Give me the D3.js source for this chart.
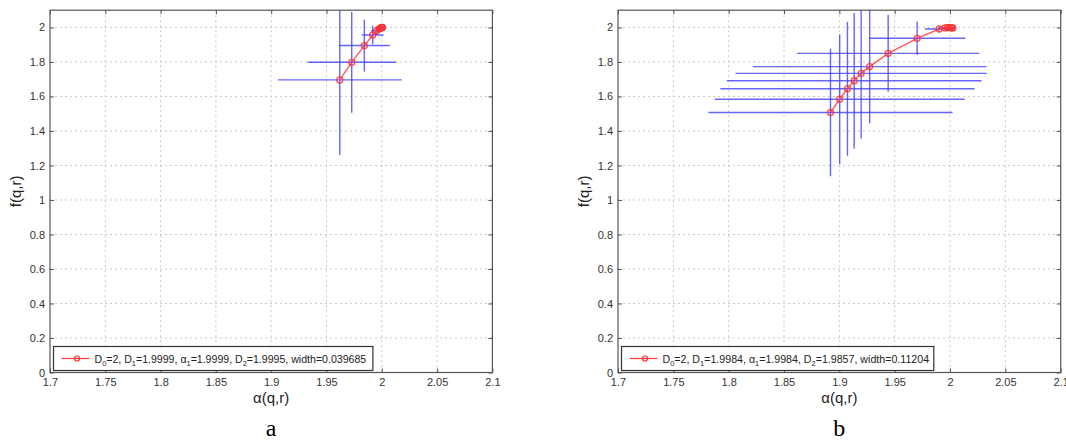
<!DOCTYPE html>
<html><head><meta charset="utf-8">
<script src="https://cdn.jsdelivr.net/npm/d3@7"></script>
<style>
html,body{margin:0;padding:0;background:#fff;}
svg{display:block;font-family:"Liberation Sans",Arial,sans-serif;}
</style></head>
<body><svg id="c" width="1066" height="443"></svg>
<script>
// ---- data ----
const xTicks = [1.7,1.75,1.8,1.85,1.9,1.95,2,2.05,2.1];
const yTicks = [0,0.2,0.4,0.6,0.8,1,1.2,1.4,1.6,1.8,2];

const aAlpha = [1.9620,1.9728,1.9842,1.9918,1.9954,1.9975,1.9988,1.9996,2.0000,2.0003,2.0005];
const aF     = [1.696,1.798,1.895,1.9565,1.981,1.991,1.996,1.999,2.000,2.000,1.9995];
const aErrA  = [0.056,0.040,0.023,0.0098,0.005,0.003,0.002,0.0015,0.001,0.0012,0.0015];
const aErrF  = [0.435,0.292,0.150,0.054,0.022,0.010,0.005,0.003,0.002,0.002,0.002];
const aLegend = ["D","0","=2, D","1","=1.9999, α","1","=1.9999, D","2","=1.9995, width=0.039685"];

const bAlpha = [1.8920,1.9003,1.9073,1.9134,1.9197,1.9274,1.9441,1.9703,1.9902,1.9955,1.9975,1.9990,2.0005,2.0015,2.0025];
const bF     = [1.507,1.584,1.645,1.691,1.734,1.773,1.850,1.937,1.991,1.9975,1.9995,2.000,1.9995,1.998,1.997];
const bErrA  = [0.1103,0.1128,0.1148,0.1151,0.1135,0.1056,0.0823,0.0436,0.013,0.005,0.003,0.002,0.002,0.002,0.002];
const bErrF  = [0.370,0.377,0.388,0.393,0.377,0.328,0.223,0.096,0.012,0.006,0.004,0.003,0.003,0.003,0.003];
const bLegend = ["D","0","=2, D","1","=1.9984, α","1","=1.9984, D","2","=1.9857, width=0.11204"];

const panels = [
  {id:"a", alpha:aAlpha, f:aF, ea:aErrA, ef:aErrF, legend:aLegend, x0:50, x1:492.4, legW:319.4, textW:272, caption:"a"},
  {id:"b", alpha:bAlpha, f:bF, ea:bErrA, ef:bErrF, legend:bLegend, x0:618, x1:1060.7, legW:312.3, textW:267, caption:"b"}
];

const svg = d3.select("#c");
const yTop = 10.2, yBot = 372.5;
const axisCol = "#555", txtCol = "#333";

panels.forEach(p => {
  const x = d3.scaleLinear().domain([1.7,2.1]).range([p.x0,p.x1]);
  const y = d3.scaleLinear().domain([0,2.1]).range([yBot,yTop]);
  const g = svg.append("g");

  g.append("defs").append("clipPath").attr("id","clip"+p.id)
    .append("rect").attr("x",p.x0).attr("y",yTop).attr("width",p.x1-p.x0).attr("height",yBot-yTop);

  // grid
  g.append("g").selectAll("line").data(xTicks.slice(1,-1)).join("line")
    .attr("x1",d=>x(d)).attr("x2",d=>x(d)).attr("y1",yTop).attr("y2",yBot)
    .attr("stroke","#c8c8c8").attr("stroke-width",1).attr("stroke-dasharray","2,3");
  g.append("g").selectAll("line").data(yTicks.slice(1)).join("line")
    .attr("x1",p.x0).attr("x2",p.x1).attr("y1",d=>y(d)).attr("y2",d=>y(d))
    .attr("stroke","#c8c8c8").attr("stroke-width",1).attr("stroke-dasharray","2,3");

  // axes (inner ticks, MATLAB style)
  const xb = d3.axisBottom(x).tickValues(xTicks).tickSize(-4).tickPadding(6).tickFormat(d3.format("~g"));
  const xt = d3.axisTop(x).tickValues(xTicks).tickSize(-4).tickFormat("");
  const yl = d3.axisLeft(y).tickValues(yTicks).tickSize(-4).tickPadding(5).tickFormat(d3.format("~g"));
  const yr = d3.axisRight(y).tickValues(yTicks).tickSize(-4).tickFormat("");
  const styleAx = sel => {
    sel.select(".domain").remove();
    sel.selectAll("line").attr("stroke",axisCol);
    sel.selectAll("text").attr("fill",txtCol).style("font-size","11px").style("font-family","Liberation Sans, Arial, sans-serif");
  };
  g.append("g").attr("transform",`translate(0,${yBot})`).call(xb).call(styleAx);
  g.append("g").attr("transform",`translate(0,${yTop})`).call(xt).call(styleAx);
  g.append("g").attr("transform",`translate(${p.x0},0)`).call(yl).call(styleAx);
  g.append("g").attr("transform",`translate(${p.x1},0)`).call(yr).call(styleAx);

  // box
  g.append("rect").attr("x",p.x0).attr("y",yTop).attr("width",p.x1-p.x0).attr("height",yBot-yTop)
    .attr("fill","none").attr("stroke",axisCol).attr("stroke-width",1.2);

  // data
  const pts = p.alpha.map((a,i)=>({a, f:p.f[i], ea:p.ea[i], ef:p.ef[i]}));
  const dg = g.append("g").attr("clip-path",`url(#clip${p.id})`);
  dg.selectAll("line.h").data(pts).join("line").attr("class","h")
    .attr("x1",d=>x(d.a-d.ea)).attr("x2",d=>x(d.a+d.ea)).attr("y1",d=>y(d.f)).attr("y2",d=>y(d.f))
    .attr("stroke","#4040ff").attr("stroke-opacity",0.8).attr("stroke-width",1.4);
  dg.selectAll("line.v").data(pts).join("line").attr("class","v")
    .attr("x1",d=>x(d.a)).attr("x2",d=>x(d.a)).attr("y1",d=>y(d.f-d.ef)).attr("y2",d=>y(d.f+d.ef))
    .attr("stroke","#4040ff").attr("stroke-opacity",0.8).attr("stroke-width",1.4);
  dg.append("path").datum(pts)
    .attr("d",d3.line().x(d=>x(d.a)).y(d=>y(d.f)))
    .attr("fill","none").attr("stroke","#ff4040").attr("stroke-opacity",0.85).attr("stroke-width",1.4);
  dg.selectAll("circle").data(pts).join("circle")
    .attr("cx",d=>x(d.a)).attr("cy",d=>y(d.f)).attr("r",3)
    .attr("fill","none").attr("stroke","#ff3030").attr("stroke-opacity",0.85).attr("stroke-width",1.3);

  // legend
  const lx = p.x0+3.5, ly = 346.5, lh = 24;
  g.append("rect").attr("x",lx).attr("y",ly).attr("width",p.legW).attr("height",lh)
    .attr("fill","#fff").attr("stroke","#333").attr("stroke-width",1.2);
  g.append("line").attr("x1",lx+8).attr("x2",lx+36).attr("y1",ly+lh/2).attr("y2",ly+lh/2)
    .attr("stroke","#ff4040").attr("stroke-width",1.3);
  g.append("circle").attr("cx",lx+23.5).attr("cy",ly+lh/2).attr("r",2.5)
    .attr("fill","none").attr("stroke","#ff3030").attr("stroke-width",1.2);
  const t = g.append("text").attr("x",lx+41).attr("y",ly+lh/2+4).attr("fill","#222")
    .style("font-size","10px");
  p.legend.forEach((s,i)=>{
    if(i%2===1) t.append("tspan").attr("class","sub").attr("dy",3).style("font-size","7px").text(s);
    else t.append("tspan").attr("dy",i===0?0:-3).text(s);
  });
  const w = t.node().getComputedTextLength();
  const k = p.textW / w;
  t.style("font-size",(10*k)+"px");
  t.selectAll("tspan.sub").style("font-size",(7*k)+"px");

  // axis labels
  g.append("text").attr("x",(p.x0+p.x1)/2).attr("y",403).attr("text-anchor","middle")
    .attr("fill","#222").style("font-size","15px").text("α(q,r)");
  g.append("text").attr("transform",`translate(${p.x0-29},${(yTop+yBot)/2}) rotate(-90)`)
    .attr("text-anchor","middle").attr("fill","#222").style("font-size","15px").text("f(q,r)");
  // caption
  g.append("text").attr("x",(p.x0+p.x1)/2).attr("y",436).attr("text-anchor","middle")
    .attr("fill","#000").style("font-family","Liberation Serif, Times New Roman, serif").style("font-size","24px")
    .text(p.caption);
});
</script></body></html>
